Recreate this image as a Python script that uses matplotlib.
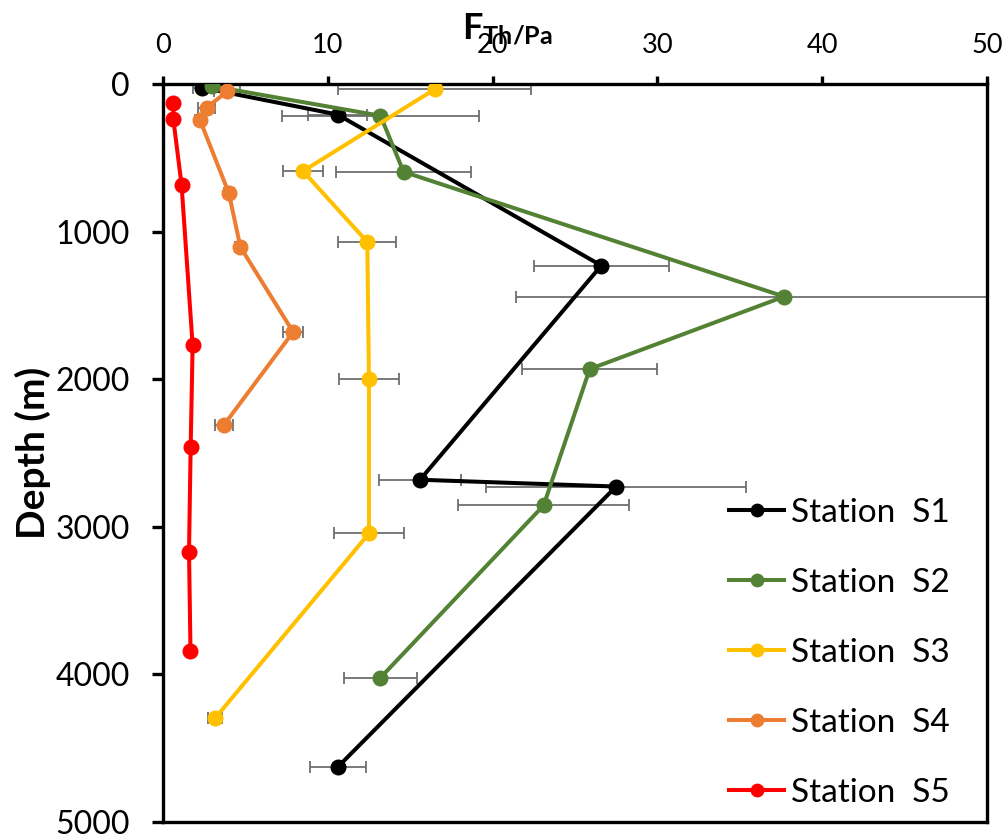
import matplotlib
matplotlib.use("Agg")
import matplotlib.pyplot as plt

plt.rcParams['font.family'] = ['Lato', 'DejaVu Sans']
plt.rcParams['mathtext.fontset'] = 'custom'
plt.rcParams['mathtext.bf'] = 'Lato:bold'
plt.rcParams['mathtext.rm'] = 'Lato'

# Données : flux F (x) en fonction de la profondeur (m)
s1_depth = [24, 207, 1230, 2681, 2727, 4628]
s1_flux  = [2.35, 10.6, 26.6, 15.6, 27.5, 10.6]
s1_err   = [0.55, 1.8, 4.1, 2.5, 7.9, 1.7]

s2_depth = [15, 215, 595, 1440, 1931, 2855, 4022]
s2_flux  = [3.0, 13.2, 14.6, 37.7, 25.9, 23.1, 13.2]
s2_err   = [0.55, 6.0, 4.1, 16.3, 4.1, 5.2, 2.2]

s3_depth = [35, 590, 1070, 2000, 3045, 4297]
s3_flux  = [16.5, 8.5, 12.4, 12.5, 12.5, 3.16]
s3_err   = [5.85, 1.2, 1.75, 1.8, 2.1, 0.45]

s4_depth = [50, 160, 245, 740, 1105, 1680, 2310]
s4_flux  = [3.9, 2.65, 2.25, 4.0, 4.7, 7.9, 3.7]
s4_err   = [0.8, 0.52, 0.3, 0.3, 0.3, 0.6, 0.52]

s5_depth = [130, 240, 685, 1770, 2460, 3170, 3841]
s5_flux  = [0.63, 0.63, 1.13, 1.8, 1.68, 1.58, 1.67]

labels = ['Station  S1', 'Station  S2', 'Station  S3', 'Station  S4', 'Station  S5']
colors = ['#000000', '#548235', '#FFC000', '#ED7D31', '#FF0000']

series = [
    (s1_flux, s1_depth, s1_err),
    (s2_flux, s2_depth, s2_err),
    (s3_flux, s3_depth, s3_err),
    (s4_flux, s4_depth, s4_err),
    (s5_flux, s5_depth, None),
]

fig = plt.figure(figsize=(10.06, 8.36), dpi=100)
ax = fig.add_axes([0.162, 0.0167, 0.819, 0.8828])

for (x, y, e), c, lab in zip(series, colors, labels):
    if e is not None:
        ax.errorbar(x, y, xerr=e, fmt='none', ecolor='#6e6e6e', elinewidth=1.3,
                    capsize=4, capthick=1.3, zorder=2)
    ax.plot(x, y, '-o', color=c, lw=2.9, ms=10.5, label=lab, zorder=3)

ax.set_xlim(0, 50)
ax.set_ylim(5000, 0)
ax.set_xticks([0, 10, 20, 30, 40, 50])
ax.set_yticks([0, 1000, 2000, 3000, 4000, 5000])
ax.xaxis.tick_top()
ax.tick_params(axis='x', direction='out', length=6, width=2.4, pad=13, labelsize=19.5)
ax.tick_params(axis='y', direction='out', length=8, width=2.4, pad=16, labelsize=23)
for sp in ax.spines.values():
    sp.set_linewidth(2.4)

ax.set_ylabel('Depth (m)', fontsize=28, fontweight='bold', labelpad=3)
fig.text(0.459, 0.965, r'$\mathbf{F_{Th/Pa}}$', fontsize=26, ha='left', va='center')

leg = ax.legend(loc='lower right', bbox_to_anchor=(0.955, 0.019), frameon=False,
                fontsize=24, handlelength=1.65, labelspacing=1.2, handletextpad=0.2,
                borderpad=0, borderaxespad=0, markerscale=0.85)

fig.savefig('out.png', dpi=100)
